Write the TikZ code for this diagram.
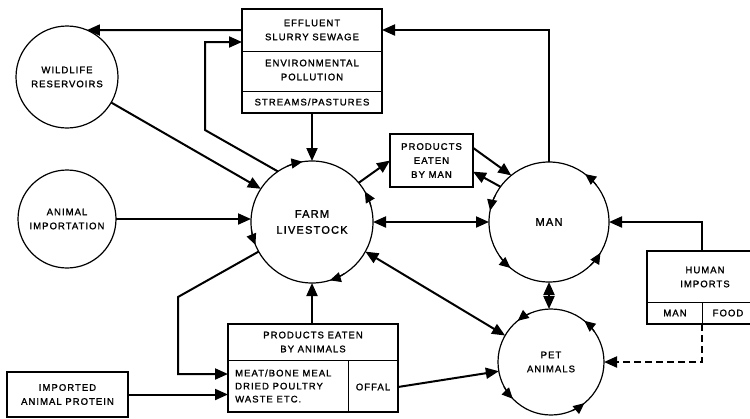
\documentclass[tikz,border=0pt]{standalone}
\usepackage{fontspec}
\setmainfont{Liberation Sans}[LetterSpace=11,FakeBold=1.5]
\usetikzlibrary{arrows.meta,calc}
\newcommand\cyc[4]{\draw[cyctip] (#1.#2) arc[start angle=#2,end angle=#3,radius=#4pt];}
\begin{document}
\begin{tikzpicture}[x=1pt,y=-1pt,
  circ/.style={circle,draw,line width=1.2pt,inner sep=0pt,outer sep=0pt,align=center,
    font=\fontsize{9.5}{14}\selectfont},
  bigtxt/.style={font=\fontsize{11}{16}\selectfont},
  box/.style={draw,line width=1.2pt,inner sep=0pt,outer sep=0pt},
  txt/.style={align=center,inner sep=0pt,font=\fontsize{9.5}{14}\selectfont},
  div/.style={line width=0.9pt},
  conn/.style={line width=2pt,-{Triangle[length=13pt,width=11pt]}},
  dconn/.style={line width=2pt,{Triangle[length=13pt,width=11pt]}-{Triangle[length=13pt,width=11pt]}},
  cyctip/.style={line width=1.2pt,-{Triangle[length=11pt,width=10pt]}},
  dashline/.style={dash pattern=on 7pt off 4pt}
]
\useasboundingbox (0,0) rectangle (750,418);

% circles
\node[circ,minimum size=102pt] (wild) at (67,77) {WILDLIFE\\RESERVOIRS};
\node[circ,minimum size=98pt] (imp) at (67,219) {ANIMAL\\IMPORTATION};
\node[circ,minimum size=122pt,bigtxt] (farm) at (312,222) {FARM\\LIVESTOCK};
\node[circ,minimum size=120pt,bigtxt] (man) at (549,222) {MAN};
\node[circ,minimum size=106pt] (pet) at (551,362) {PET\\ANIMALS};

% effluent box
\node[box,minimum width=140pt,minimum height=104pt] (eff) at (312,61) {};
\draw[div] (eff.west |- 0,51) -- (eff.east |- 0,51);
\draw[div] (eff.west |- 0,91) -- (eff.east |- 0,91);
\node[txt] (effA) at (312,30) {EFFLUENT\\SLURRY SEWAGE};
\node[txt] (effB) at (312,70) {ENVIRONMENTAL\\POLLUTION};
\node[txt] (effC) at (312,102) {STREAMS/PASTURES};

% products eaten by man
\node[box,minimum width=83pt,minimum height=53pt,txt] (pbm) at (431.5,160.5) {PRODUCTS\\EATEN\\BY MAN};

% products eaten by animals
\node[box,minimum width=170pt,minimum height=88pt] (pba) at (313,368) {};
\draw[div] (pba.west |- 0,360) -- (pba.east |- 0,360);
\draw[div] (348,360) -- (348,412);
\node[txt] (pbaA) at (313,342) {PRODUCTS EATEN\\BY ANIMALS};
\node[txt,align=left,anchor=west,font=\fontsize{9.5}{13}\selectfont] (pbaB) at (235,386) {MEAT/BONE MEAL\\DRIED POULTRY\\WASTE ETC.};
\node[txt] (offal) at (373,387) {OFFAL};

% imported animal protein
\node[box,minimum width=121pt,minimum height=45pt,txt] (iap) at (67.5,394.5) {IMPORTED\\ANIMAL PROTEIN};

% human imports
\node[box,minimum width=115pt,minimum height=73pt] (hi) at (704.5,287.5) {};
\draw[div] (hi.west |- 0,302) -- (hi.east |- 0,302);
\draw[div] (702,302) -- (702,324);
\node[txt] (hiA) at (705,277) {HUMAN\\IMPORTS};
\node[txt] (hiB) at (675,313) {MAN};
\node[txt] (hiC) at (728,313) {FOOD};

% coordinates
\coordinate (effL30) at (242,30);
\coordinate (effL42) at (242,42);
\coordinate (effR30) at (382,30);
\coordinate (bendA) at (205,130);
\coordinate (bendB) at (205,42);
\coordinate (bendC) at (178,297);
\coordinate (bendD) at (178,374);
\coordinate (pbaL374) at (228,374);
\coordinate (pbaR387) at (398,387);
\coordinate (hiTop) at (702,251);
\coordinate (hiBot) at (702,324);

% connectors
\draw[conn] (effL30) -- (wild.67);
\draw[conn] (farm.124) -- (bendA) -- (bendB) -- (effL42);
\draw[conn] (wild.-30) -- (farm.147);
\draw[conn] (eff.south) -- (farm.north);
\draw[conn] (imp.east) -- (imp.east -| farm.west);
\draw[conn] (farm.40) -- (pbm.west);
\draw[conn] (pbm.17) -- (man.129);
\draw[conn] (man.144) -- (pbm.-15);
\draw[conn] (man.north) -- (man.north |- effR30) -- (effR30);
\draw[dconn] (farm.east) -- (man.west);
\draw[dconn] (farm.-29) -- (pet.150);
\draw[dconn] (man.south) -- (man.south |- pet.north);
\draw[conn] (farm.209) -- (bendC) -- (bendD) -- (pbaL374);
\draw[conn] (pba.north -| farm.south) -- (farm.south);
\draw[conn] (iap.east) -- (iap.east -| pba.west);
\draw[conn] (pbaR387) -- (pet.190);
\draw[conn] (hiTop) -- (hiTop |- man.east) -- (man.east);
\draw[conn,dashline] (hiBot) -- (hiBot |- pet.east) -- (pet.east);

% cycle arrowheads on circles
\cyc{farm}{114}{99}{61}
\cyc{farm}{15}{30}{61}
\cyc{farm}{187}{202}{61}
\cyc{farm}{302}{287}{61}
\cyc{man}{38}{53}{60}
\cyc{man}{154}{169}{60}
\cyc{man}{215}{230}{60}
\cyc{man}{314}{329}{60}
\cyc{pet}{113}{129}{53}
\cyc{pet}{35}{51}{53}
\cyc{pet}{208}{224}{53}
\cyc{pet}{293}{309}{53}
\end{tikzpicture}
\end{document}
